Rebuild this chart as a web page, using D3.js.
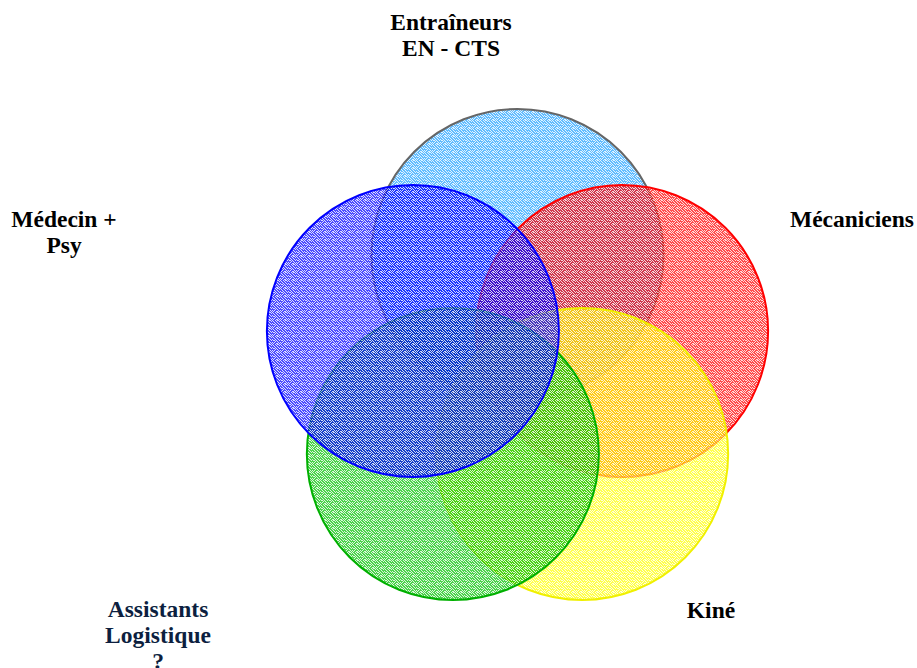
<!DOCTYPE html>
<html>
<head>
<meta charset="utf-8">
<script src="https://cdn.jsdelivr.net/npm/d3@7"></script>
<style>
  body { margin: 0; background: #fff; }
  text { font-family: "Liberation Serif", "Times New Roman", serif; font-weight: bold; font-size: 23.5px; }
</style>
</head>
<body>
<div id="chart"></div>
<script>
// Sets of the diagram, in drawing order (first one is at the back)
var setNames = ["Entraîneurs", "Mécaniciens", "Kiné", "Assistants", "Médecin"];
var setSlots = [0, 1, 2, 3, 4];   // place around the pentagon, clockwise from top
var setColors = ["#1ea0ff", "#ff0000", "#ffff00", "#00c000", "#0000ff"];
var setStrokes = ["#666666", "#ff0000", "#f0f000", "#00b000", "#0000ff"];
var labelLines = [
  ["Entraîneurs", "EN - CTS"],
  ["Mécaniciens"],
  ["Kiné"],
  ["Assistants", "Logistique", "?"],
  ["Médecin +", "Psy"]
];

var svgWidth = 917;
var svgHeight = 668;

var svg = d3.select("#chart")
  .append("svg")
  .attr("width", svgWidth)
  .attr("height", svgHeight);

// layout of the pentagon of circles
var cx0 = 517.5, cy0 = 365, ringR = 110, circleR = 146;
var angle = d3.scaleLinear().domain([0, 5]).range([-Math.PI / 2, 1.5 * Math.PI]);

// speckled texture, one pattern per colour
var mask = [
  "10010110",
  "01001001",
  "00100100",
  "10010010",
  "01101001",
  "00010100",
  "10100010",
  "01001101"
];
var defs = svg.append("defs");
setColors.forEach(function (c, i) {
  var p = defs.append("pattern")
    .attr("id", "tex" + i)
    .attr("patternUnits", "userSpaceOnUse")
    .attr("width", 8)
    .attr("height", 8);
  p.append("rect").attr("width", 8).attr("height", 8).attr("fill", c);
  mask.forEach(function (row, y) {
    row.split("").forEach(function (b, x) {
      if (b === "1") {
        p.append("rect")
          .attr("x", x).attr("y", y)
          .attr("width", 1).attr("height", 1)
          .attr("fill", "#ffffff")
          .attr("opacity", 0.8);
      }
    });
  });
});

var circles = svg.selectAll("circle.set")
  .data(setNames)
  .enter()
  .append("circle")
  .attr("class", "set")
  .attr("cx", (d, i) => cx0 + ringR * Math.cos(angle(setSlots[i])))
  .attr("cy", (d, i) => cy0 + ringR * Math.sin(angle(setSlots[i])))
  .attr("r", circleR)
  .attr("fill", (d, i) => "url(#tex" + i + ")")
  .attr("fill-opacity", 0.7)
  .attr("stroke", (d, i) => setStrokes[i])
  .attr("stroke-width", 2);

// labels
var labelPos = [
  { x: 451, y: 30, color: "#000000" },
  { x: 852, y: 227, color: "#000000" },
  { x: 711, y: 618, color: "#000000" },
  { x: 158, y: 617, color: "#0d1f3f" },
  { x: 64, y: 227, color: "#000000" }
];
labelLines.forEach(function (lines, i) {
  var t = svg.append("text")
    .attr("text-anchor", "middle")
    .attr("fill", labelPos[i].color);
  lines.forEach(function (line, j) {
    t.append("tspan")
      .attr("x", labelPos[i].x)
      .attr("y", labelPos[i].y + j * 26)
      .text(line);
  });
});
</script>
</body>
</html>
